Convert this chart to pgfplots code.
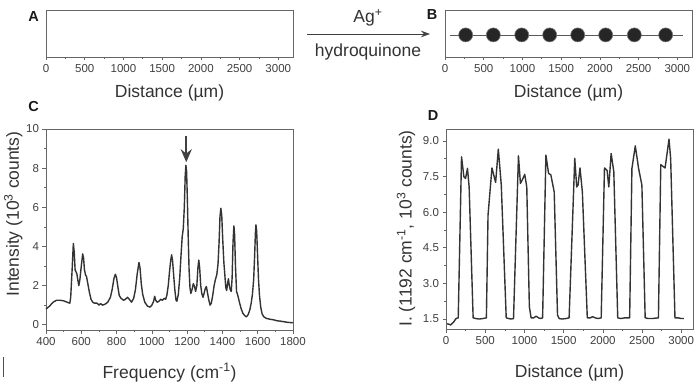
\documentclass[border=0pt]{standalone}
\usepackage{fontspec}
\setmainfont{Liberation Sans}
\usepackage{pgfplots}
\pgfplotsset{compat=1.18}
\usetikzlibrary{arrows.meta}

\pgfplotsset{
  panel/.style={
    scale only axis,
    axis line style={black!60, line width=0.8pt},
    every tick/.style={black!60, line width=0.6pt},
    tick align=outside,
    tick pos=left,
    major tick length=3.5pt,
    minor tick length=2pt,
    tick label style={font=\fontsize{11.5}{12}\selectfont, text=black!75},
    label style={font=\fontsize{17.5}{18}\selectfont, text=black!80},
    /pgf/number format/assume math mode=true,
    /pgf/number format/1000 sep={},
    clip=false,
  }
}

\begin{document}
\begin{tikzpicture}
\path[use as bounding box] (0,0) rectangle (696pt,388pt);

% ---------- Panel A ----------
\begin{axis}[panel,
  at={(46pt,331pt)}, anchor=south west,
  width=247pt, height=47pt,
  xmin=0, xmax=3190, ymin=0, ymax=1,
  xtick={0,500,...,3000}, minor x tick num=1,
  ytick=\empty,
  xlabel={Distance (\textmu m)},
  xlabel style={at={(axis description cs:0.5,-0.766)}, anchor=center},
]
\end{axis}

% ---------- Panel B ----------
\begin{axis}[panel,
  at={(445pt,331pt)}, anchor=south west,
  width=247pt, height=47pt,
  xmin=0, xmax=3190, ymin=0, ymax=1,
  xtick={0,500,...,3000}, minor x tick num=1,
  ytick=\empty,
  xlabel={Distance (\textmu m)},
  xlabel style={at={(axis description cs:0.5,-0.766)}, anchor=center},
]
\addplot[black!65, line width=0.8pt] coordinates {(65,0.47) (3074,0.47)};
\addplot[only marks, mark=*, mark size=7pt, mark options={fill=black!85, draw=black!55, line width=0.6pt}]
 coordinates {(267,0.47) (624,0.47) (991,0.47) (1352,0.47) (1714,0.47) (2075,0.47) (2445,0.47) (2850,0.47)};
\end{axis}

% ---------- Panel C ----------
\begin{axis}[panel,
  at={(46pt,58pt)}, anchor=south west,
  width=247pt, height=201pt,
  xmin=400, xmax=1800, ymin=-0.27, ymax=10,
  xtick={400,600,...,1800}, minor x tick num=1,
  ytick={0,2,...,10}, minor y tick num=1,
  xlabel={Frequency (cm\textsuperscript{-1})},
  ylabel={Intensity (10\textsuperscript{3} counts)},
  xlabel style={at={(axis description cs:0.5,-0.2114)}, anchor=center},
  ylabel style={at={(axis description cs:-0.132,0.577)}, anchor=center},
]
\addplot[black!80, line width=1.4pt, line join=round] coordinates {
(400,0.80) (420,0.95) (440,1.15) (460,1.25) (480,1.25) (500,1.22) (520,1.15) (535,1.10)
(540,1.40) (548,2.80) (555,4.15) (560,3.70) (565,2.80) (570,2.70) (575,2.60) (580,2.30)
(586,2.00) (592,2.30) (600,3.00) (608,3.62) (613,3.40) (618,2.80) (624,2.55) (630,2.45)
(636,2.15) (645,1.70) (655,1.30) (665,1.15) (675,1.10) (690,1.10) (700,1.00) (710,1.08)
(720,1.00) (735,1.05) (750,1.15) (765,1.40) (775,1.80) (785,2.35) (793,2.58) (800,2.40)
(808,1.90) (815,1.50) (825,1.35) (840,1.25) (850,1.30) (862,1.40) (872,1.30) (885,1.15)
(897,1.35) (907,1.80) (917,2.60) (927,3.18) (933,2.90) (940,2.10) (948,1.55) (960,1.15)
(975,0.95) (990,0.90) (1000,1.00) (1010,1.20) (1016,1.45) (1022,1.25) (1030,1.15) (1040,1.20)
(1050,1.30) (1060,1.25) (1070,1.35) (1078,1.30) (1085,1.50) (1093,2.00) (1100,2.70) (1107,3.30)
(1112,3.57) (1117,3.30) (1123,2.60) (1130,1.80) (1137,1.25) (1142,1.20) (1150,1.55) (1158,2.40)
(1165,3.50) (1172,4.50) (1178,4.90) (1184,6.00) (1189,7.60) (1193,8.15) (1197,7.80) (1201,6.50)
(1206,4.50) (1211,2.80) (1216,1.90) (1221,1.60) (1228,1.80) (1235,2.10) (1242,1.95) (1248,1.70)
(1255,2.00) (1261,2.90) (1266,3.30) (1271,2.90) (1277,2.00) (1283,1.60) (1290,1.40) (1296,1.60)
(1303,1.85) (1309,1.95) (1315,1.65) (1322,1.30) (1330,1.00) (1337,1.10) (1345,1.50) (1353,2.00)
(1360,2.30) (1368,2.55) (1375,3.10) (1381,4.20) (1386,5.50) (1391,5.95) (1396,5.60) (1402,4.30)
(1408,3.20) (1414,2.50) (1419,1.90) (1424,1.75) (1429,2.10) (1434,2.35) (1439,2.00) (1444,1.80)
(1450,1.70) (1455,2.40) (1460,4.20) (1465,5.05) (1469,4.60) (1474,3.00) (1480,1.70) (1487,1.50)
(1495,1.20) (1505,0.85) (1515,0.60) (1525,0.48) (1535,0.40) (1545,0.50) (1555,0.75) (1563,1.10)
(1570,1.55) (1577,2.30) (1582,3.40) (1587,4.70) (1590,5.10) (1594,4.80) (1599,3.60) (1604,2.40)
(1610,1.50) (1617,0.90) (1625,0.55) (1635,0.40) (1650,0.32) (1670,0.28) (1690,0.25) (1710,0.20)
(1730,0.18) (1750,0.15) (1770,0.12) (1800,0.10)
};
\draw[black!75, line width=2pt, -{Stealth[length=13pt,width=11pt]}] (axis cs:1195,9.65) -- (axis cs:1195,8.3);
\end{axis}

% ---------- Panel D ----------
\begin{axis}[panel,
  at={(446pt,59pt)}, anchor=south west,
  width=247pt, height=200pt,
  xmin=0, xmax=3150, ymin=1.08, ymax=9.5,
  xtick={0,500,...,3000}, minor x tick num=1,
  ytick={1.5,3,4.5,6,7.5,9}, minor y tick num=1,
  yticklabel style={/pgf/number format/fixed, /pgf/number format/precision=1, /pgf/number format/fixed zerofill},
  xlabel={Distance (\textmu m)},
  ylabel={I. (1192 cm\textsuperscript{-1}, 10\textsuperscript{3} counts)},
  xlabel style={at={(axis description cs:0.5,-0.22)}, anchor=center},
  ylabel style={at={(axis description cs:-0.162,0.5025)}, anchor=center},
]
\addplot[black!80, line width=1.4pt, line join=round] coordinates {
(15,1.30) (40,1.28) (60,1.25) (80,1.32) (100,1.38) (127,1.52) (156,1.55)
(198,8.33) (228,7.49) (249,7.42) (274,7.84) (295,7.06) (346,1.55)
(380,1.52) (420,1.50) (470,1.52) (515,1.55)
(536,5.87) (586,7.86) (633,7.25) (667,8.65) (705,7.14) (768,1.55)
(800,1.52) (830,1.50) (861,1.52)
(924,8.37) (949,7.21) (979,7.40) (1004,7.59) (1030,7.06) (1063,2.02) (1085,1.55)
(1120,1.55) (1148,1.62) (1180,1.55) (1205,1.52) (1232,1.55)
(1274,8.40) (1308,7.63) (1337,7.57) (1380,6.85) (1422,1.67) (1443,1.52)
(1480,1.50) (1530,1.52) (1570,1.55)
(1642,8.26) (1667,7.06) (1684,7.14) (1709,7.86) (1739,6.85) (1802,1.55)
(1840,1.55) (1870,1.60) (1900,1.55) (1940,1.52) (1979,1.55)
(2021,7.86) (2055,7.75) (2076,7.06) (2106,8.47) (2140,7.70) (2190,1.55)
(2230,1.52) (2280,1.55) (2342,1.55)
(2371,7.84) (2414,8.79) (2456,7.84) (2498,7.14) (2540,1.55)
(2580,1.52) (2630,1.52) (2709,1.55)
(2739,8.00) (2794,7.86) (2844,9.07) (2865,8.26) (2920,1.55)
(2960,1.55) (3000,1.52) (3034,1.52)
};
\end{axis}

% ---------- annotations ----------
\draw[black!75, line width=0.8pt, -{Stealth[length=9pt,width=6.5pt]}] (307pt,354pt) -- (430pt,354pt);
\node[anchor=base, font=\fontsize{17.5}{18}\selectfont, text=black!80] at (368pt,365.5pt) {Ag\textsuperscript{+}};
\node[anchor=base, font=\fontsize{17.5}{18}\selectfont, text=black!80] at (368pt,331.5pt) {hydroquinone};

\node[font=\bfseries\fontsize{14.5}{15}\selectfont, text=black!90] at (33.5pt,371.5pt) {A};
\node[font=\bfseries\fontsize{14.5}{15}\selectfont, text=black!90] at (432pt,373pt) {B};
\node[font=\bfseries\fontsize{14.5}{15}\selectfont, text=black!90] at (33.5pt,281pt) {C};
\node[font=\bfseries\fontsize{14.5}{15}\selectfont, text=black!90] at (433pt,272pt) {D};

\draw[black!70, line width=0.8pt] (3pt,11pt) -- (3pt,31pt);
\end{tikzpicture}
\end{document}
